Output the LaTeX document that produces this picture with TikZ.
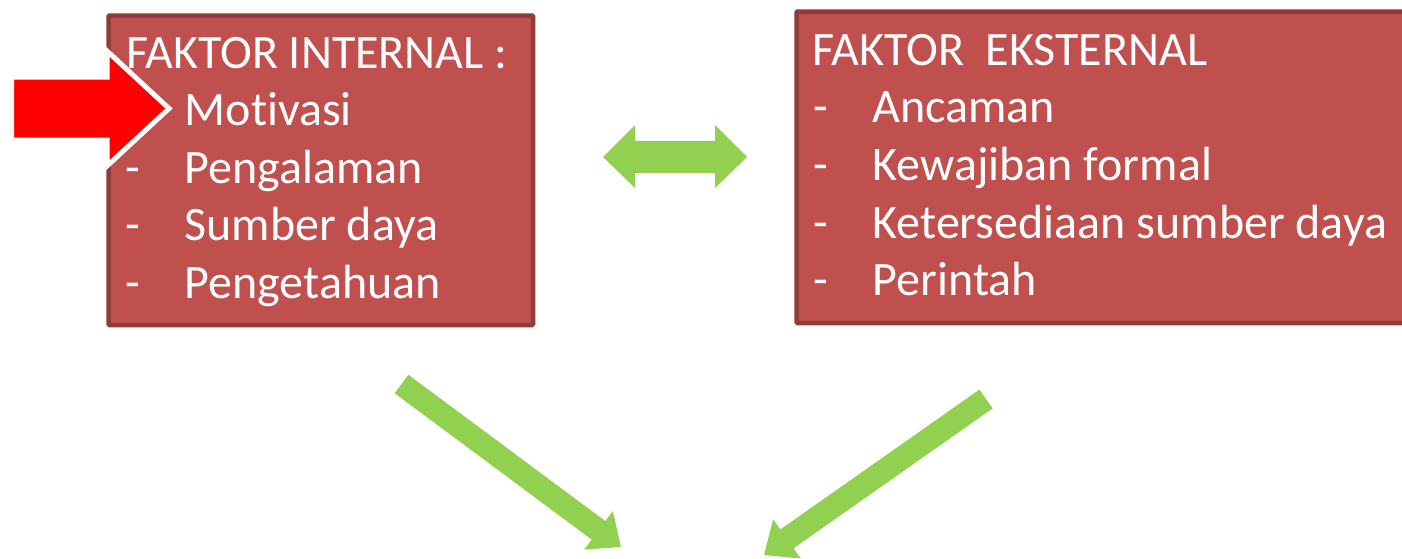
\documentclass[tikz,border=0pt]{standalone}
\usepackage{fontspec}
\setmainfont{Carlito}[Ligatures=NoCommon]
\usetikzlibrary{calc}
\definecolor{boxred}{HTML}{C0504D}
\definecolor{boxedge}{HTML}{8E3B39}
\definecolor{arrgreen}{HTML}{92D050}
\definecolor{pointred}{HTML}{FF0000}
% #1 tail, #2 tip, #3 shaft half-width, #4 head half-width, #5 head length
\newcommand{\myblockarrow}[5]{%
  \coordinate (#1-hb) at ($(#2)!#5!(#1)$);
  \fill[arrgreen] ($(#1)!#3!90:(#2)$) -- ($(#1-hb)!#3!90:(#2)$) -- ($(#1-hb)!#4!90:(#2)$)
    -- (#2) -- ($(#1-hb)!#4!-90:(#2)$) -- ($(#1-hb)!#3!-90:(#2)$) -- ($(#1)!#3!-90:(#2)$) -- cycle;}
\begin{document}
\begin{tikzpicture}[x=1pt,y=-1pt,
  box/.style={fill=boxred,draw=boxedge,line width=4.5pt,rectangle,anchor=north west,inner sep=0pt,rounded corners=1pt},
  txt/.style={anchor=base west,inner sep=0pt,text=white,font=\fontsize{48}{58}\selectfont},
  item/.style={txt},
]
\useasboundingbox (0,0) rectangle (1402,558);
\fill[white] (0,0) rectangle (1402,558);

% left box
\node[box,minimum width=424.5pt,minimum height=309.5pt] (internal) at (106.25,13.25) {};
% right box (runs past the right edge)
\begin{scope}
\clip (0,0) rectangle (1402,558);
\node[box,minimum width=640pt,minimum height=311.5pt] (external) at (794.25,9.25) {};
\end{scope}

% left texts
\node[txt] (ititle) at (126,68) {FAKTOR INTERNAL :};
\node[item] (i1) at (125.5,125) {\makebox[59pt][l]{}Motivasi};
\node[item] (i2) at (125.5,183) {\makebox[59pt][l]{-}Pengalaman};
\node[item] (i3) at (125.5,240) {\makebox[59pt][l]{-}Sumber daya};
\node[item] (i4) at (125.5,298) {\makebox[59pt][l]{-}Pengetahuan};

% right texts
\node[txt] (etitle) at (812,65) {FAKTOR\ \ EKSTERNAL};
\node[item] (e1) at (813,122) {\makebox[59.5pt][l]{-}Ancaman};
\node[item] (e2) at (813,180) {\makebox[59.5pt][l]{-}Kewajiban formal};
\node[item] (e3) at (813,238) {\makebox[59.5pt][l]{-}Ketersediaan sumber daya};
\node[item] (e4) at (813,295) {\makebox[59.5pt][l]{-}Perintah};

% red pointer arrow
\filldraw[fill=pointred,draw=white,line width=5pt]
  (11.5,77) -- (107,77) -- (107,51) -- (169,108.5) -- (107,166) -- (107,140) -- (11.5,140) -- cycle;

% double arrow
\fill[arrgreen] (603,157) -- (635,125) -- (635,141) -- (715,141) -- (715,125) -- (747,157)
  -- (715,188) -- (715,173) -- (635,173) -- (635,188) -- cycle;

% diagonal arrows
\coordinate (a1t) at (401.5,384);
\coordinate (a1p) at (621,547);
\coordinate (a2t) at (986,399);
\coordinate (a2p) at (764,555);
\myblockarrow{a1t}{a1p}{11.5pt}{24pt}{28pt}
\myblockarrow{a2t}{a2p}{11.5pt}{24pt}{28pt}
\end{tikzpicture}
\end{document}
